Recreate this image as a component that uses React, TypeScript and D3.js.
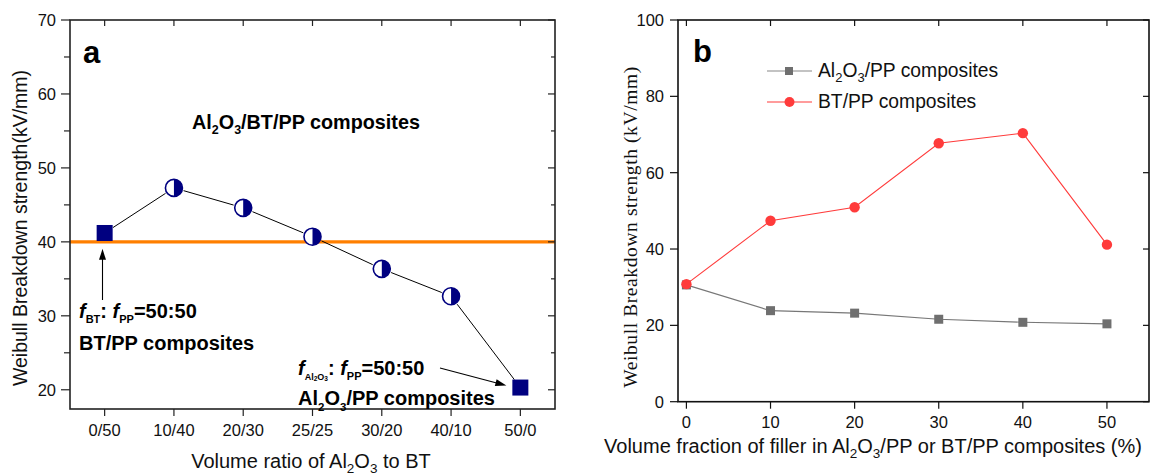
import React from 'react';
import * as d3 from 'd3';

// ---------- Panel a data ----------
const ratioCats = ['0/50', '10/40', '20/30', '25/25', '30/20', '40/10', '50/0'];
const ratioValues = [41.2, 47.3, 44.6, 40.7, 36.35, 32.65, 20.3];
const ratioMarkers = ['square', 'half', 'half', 'half', 'half', 'half', 'square'];
const referenceLevel = 40;
const aYTicks = [20, 30, 40, 50, 60, 70];
const aYMinor = [25, 35, 45, 55, 65];

// ---------- Panel b data ----------
const fillerFractions = [0, 10, 20, 30, 40, 50];
const al2o3Values = [30.6, 23.85, 23.2, 21.6, 20.8, 20.4];
const btValues = [30.8, 47.4, 50.95, 67.7, 70.35, 41.15];
const bXTicks = [0, 10, 20, 30, 40, 50];
const bYTicks = [0, 20, 40, 60, 80, 100];

const SANS = "'Liberation Sans', Arial, Helvetica, sans-serif";
const SERIF = "'Liberation Serif', 'Times New Roman', serif";
const NAVY = '#000080';
const ORANGE = '#ff7f00';
const GRAY = '#6f6f6f';
const RED = '#ff3b3b';

type P = [number, number];
function gapSegments(pts: P[], gap: number) {
  const segs: [number, number, number, number][] = [];
  for (let i = 0; i < pts.length - 1; i++) {
    const [x1, y1] = pts[i];
    const [x2, y2] = pts[i + 1];
    const dx = x2 - x1, dy = y2 - y1;
    const L = Math.hypot(dx, dy);
    if (L <= 2 * gap) continue;
    const ux = dx / L, uy = dy / L;
    segs.push([x1 + ux * gap, y1 + uy * gap, x2 - ux * gap, y2 - uy * gap]);
  }
  return segs;
}

function Arrow({ x1, y1, x2, y2 }: { x1: number; y1: number; x2: number; y2: number }) {
  const dx = x2 - x1, dy = y2 - y1;
  const L = Math.hypot(dx, dy);
  const ux = dx / L, uy = dy / L;
  const hl = 11, hw = 3.5;
  const bx = x2 - ux * hl, by = y2 - uy * hl;
  const pts = [
    [x2, y2],
    [bx - uy * hw, by + ux * hw],
    [bx + uy * hw, by - ux * hw],
  ];
  return (
    <g>
      <line x1={x1} y1={y1} x2={bx + ux * 1} y2={by + uy * 1} stroke="#000" strokeWidth={1.1} />
      <polygon points={pts.map((p) => p.join(',')).join(' ')} fill="#000" />
    </g>
  );
}

function PanelA() {
  const L = 70, R = 555, T = 20, B = 409;
  const x = d3.scalePoint<string>().domain(ratioCats).range([L, R]).padding(0.5);
  const y = d3.scaleLinear().domain([17.4, 70]).range([B, T]);
  const pts: P[] = ratioCats.map((c, i) => [x(c)!, y(ratioValues[i])]);
  const segs = gapSegments(pts, 10);
  const r = 8.5;
  return (
    <g>
      <line x1={L} x2={R} y1={y(referenceLevel)} y2={y(referenceLevel)} stroke={ORANGE} strokeWidth={3.2} />
      {segs.map((s, i) => (
        <line key={i} x1={s[0]} y1={s[1]} x2={s[2]} y2={s[3]} stroke="#000" strokeWidth={1} />
      ))}
      {pts.map(([px, py], i) =>
        ratioMarkers[i] === 'square' ? (
          <rect key={i} x={px - 8} y={py - 8} width={16} height={16} fill={NAVY} />
        ) : (
          <g key={i}>
            <circle cx={px} cy={py} r={r} fill="#fff" stroke={NAVY} strokeWidth={1.6} />
            <path d={`M${px},${py - r} A${r},${r} 0 0 1 ${px},${py + r} Z`} fill={NAVY} />
          </g>
        )
      )}
      <rect x={L} y={T} width={R - L} height={B - T} fill="none" stroke="#222" strokeWidth={1.6} />
      {aYTicks.map((t) => (
        <g key={t}>
          <line x1={L - 9} x2={L} y1={y(t)} y2={y(t)} stroke="#222" strokeWidth={1.2} />
          <line x1={R} x2={R - 7} y1={y(t)} y2={y(t)} stroke="#222" strokeWidth={1.2} />
          <text x={L - 14} y={y(t) + 6} textAnchor="end" fontFamily={SANS} fontSize={16.5} fill="#111">
            {t}
          </text>
        </g>
      ))}
      {aYMinor.map((t) => (
        <g key={t}>
          <line x1={L - 6} x2={L} y1={y(t)} y2={y(t)} stroke="#222" strokeWidth={1.2} />
          <line x1={R} x2={R - 4} y1={y(t)} y2={y(t)} stroke="#222" strokeWidth={1.2} />
        </g>
      ))}
      {ratioCats.map((c) => (
        <g key={c}>
          <line x1={x(c)} x2={x(c)} y1={B} y2={B + 7} stroke="#222" strokeWidth={1.2} />
          <line x1={x(c)} x2={x(c)} y1={T} y2={T + 6} stroke="#222" strokeWidth={1.2} />
          <text x={x(c)} y={436} textAnchor="middle" fontFamily={SANS} fontSize={16.5} fill="#111">
            {c}
          </text>
        </g>
      ))}
      <text x={311} y={468} textAnchor="middle" fontFamily={SANS} fontSize={20} fill="#111">
        <tspan>Volume ratio of Al</tspan>
        <tspan dy={5} fontSize={13.5}>2</tspan>
        <tspan dy={-5}>O</tspan>
        <tspan dy={5} fontSize={13.5}>3</tspan>
        <tspan dy={-5}> to BT</tspan>
      </text>
      <text
        transform={`translate(27,228) rotate(-90)`}
        textAnchor="middle"
        fontFamily={SANS}
        fontSize={19.5}
        fill="#111"
      >
        Weibull Breakdown strength(kV/mm)
      </text>
      <text x={83} y={63} fontFamily={SANS} fontWeight="bold" fontSize={31} fill="#000">
        a
      </text>
      <text x={192} y={129} fontFamily={SANS} fontWeight="bold" fontSize={19.8} fill="#000">
        <tspan>Al</tspan>
        <tspan dy={5} fontSize={12.5}>2</tspan>
        <tspan dy={-5}>O</tspan>
        <tspan dy={5} fontSize={12.5}>3</tspan>
        <tspan dy={-5}>/BT/PP composites</tspan>
      </text>
      <Arrow x1={102.5} y1={300} x2={102.5} y2={y(referenceLevel) + 7} />
      <text x={79} y={318} fontFamily={SANS} fontWeight="bold" fontSize={20} fill="#000">
        <tspan fontStyle="italic">f</tspan>
        <tspan dy={5} fontSize={11}>BT</tspan>
        <tspan dy={-5}>: </tspan>
        <tspan fontStyle="italic">f</tspan>
        <tspan dy={5} fontSize={11}>PP</tspan>
        <tspan dy={-5}>=50:50</tspan>
      </text>
      <text x={79} y={350} fontFamily={SANS} fontWeight="bold" fontSize={20} fill="#000">
        BT/PP composites
      </text>
      <Arrow x1={440} y1={368} x2={x('50/0')! - 14} y2={y(ratioValues[6]) - 2} />
      <text x={298} y={375} fontFamily={SANS} fontWeight="bold" fontSize={20} fill="#000">
        <tspan fontStyle="italic">f</tspan>
        <tspan dy={5} fontSize={9}>Al</tspan>
        <tspan dy={1} fontSize={6.5}>2</tspan>
        <tspan dy={-1} fontSize={9}>O</tspan>
        <tspan dy={1} fontSize={6.5}>3</tspan>
        <tspan dy={-6}>: </tspan>
        <tspan fontStyle="italic">f</tspan>
        <tspan dy={5} fontSize={11}>PP</tspan>
        <tspan dy={-5}>=50:50</tspan>
      </text>
      <text x={298} y={405} fontFamily={SANS} fontWeight="bold" fontSize={20} fill="#000">
        <tspan>Al</tspan>
        <tspan dy={6} fontSize={11.5}>2</tspan>
        <tspan dy={-6}>O</tspan>
        <tspan dy={6} fontSize={11.5}>3</tspan>
        <tspan dy={-6}>/PP composites</tspan>
      </text>
    </g>
  );
}

function PanelB() {
  const L = 678, R = 1149, T = 20, B = 401.7;
  const x = d3.scaleLinear().domain([-1, 55]).range([L, R]);
  const y = d3.scaleLinear().domain([0, 100]).range([B, T]);
  const line = d3
    .line<number>()
    .x((_, i) => x(fillerFractions[i]))
    .y((d) => y(d));
  return (
    <g>
      <path d={line(al2o3Values)!} fill="none" stroke="#777" strokeWidth={1.1} />
      {al2o3Values.map((v, i) => (
        <rect key={i} x={x(fillerFractions[i]) - 4.5} y={y(v) - 4.5} width={9} height={9} fill={GRAY} />
      ))}
      <path d={line(btValues)!} fill="none" stroke={RED} strokeWidth={1.1} />
      {btValues.map((v, i) => (
        <circle key={i} cx={x(fillerFractions[i])} cy={y(v)} r={5.2} fill={RED} />
      ))}
      <rect x={L} y={T} width={R - L} height={B - T} fill="none" stroke="#111" strokeWidth={1.6} />
      {bYTicks.map((t) => (
        <g key={t}>
          <line x1={L - 8} x2={L} y1={y(t)} y2={y(t)} stroke="#111" strokeWidth={1.2} />
          <line x1={R} x2={R - 6} y1={y(t)} y2={y(t)} stroke="#111" strokeWidth={1.2} />
          <text x={L - 14} y={y(t) + 6} textAnchor="end" fontFamily={SANS} fontSize={16.5} fill="#111">
            {t}
          </text>
        </g>
      ))}
      {bXTicks.map((t) => (
        <g key={t}>
          <line x1={x(t)} x2={x(t)} y1={B} y2={B + 7} stroke="#111" strokeWidth={1.2} />
          <line x1={x(t)} x2={x(t)} y1={T} y2={T + 6} stroke="#111" strokeWidth={1.2} />
          <text x={x(t)} y={428} textAnchor="middle" fontFamily={SANS} fontSize={16.5} fill="#111">
            {t}
          </text>
        </g>
      ))}
      <text x={873} y={453} textAnchor="middle" fontFamily={SANS} fontSize={20} fill="#111">
        <tspan>Volume fraction of filler in Al</tspan>
        <tspan dy={5} fontSize={13.5}>2</tspan>
        <tspan dy={-5}>O</tspan>
        <tspan dy={5} fontSize={13.5}>3</tspan>
        <tspan dy={-5}>/PP or BT/PP composites (%)</tspan>
      </text>
      <text
        transform={`translate(637,227) rotate(-90)`}
        textAnchor="middle"
        fontFamily={SERIF}
        fontSize={19.5}
        letterSpacing={0.6}
        fill="#111"
      >
        Weibull Breakdown strength (kV/mm)
      </text>
      <text x={693} y={62} fontFamily={SANS} fontWeight="bold" fontSize={31} fill="#000">
        b
      </text>
      <line x1={767} x2={812} y1={71} y2={71} stroke="#888" strokeWidth={1.1} />
      <rect x={785} y={67} width={8} height={8} fill={GRAY} />
      <text x={818} y={77} fontFamily={SANS} fontSize={19.3} fill="#111">
        <tspan>Al</tspan>
        <tspan dy={5} fontSize={13}>2</tspan>
        <tspan dy={-5}>O</tspan>
        <tspan dy={5} fontSize={13}>3</tspan>
        <tspan dy={-5}>/PP composites</tspan>
      </text>
      <line x1={767} x2={812} y1={102} y2={102} stroke={RED} strokeWidth={1.1} />
      <circle cx={789.5} cy={102} r={5} fill={RED} />
      <text x={818} y={108} fontFamily={SANS} fontSize={19.3} fill="#111">
        BT/PP composites
      </text>
    </g>
  );
}

export default function App() {
  return (
    <svg
      width={1150}
      height={475}
      viewBox="0 0 1150 475"
      style={{ position: 'absolute', left: 0, top: 0, background: '#fff' }}
    >
      <rect width={1150} height={475} fill="#fff" />
      <PanelA />
      <PanelB />
    </svg>
  );
}
